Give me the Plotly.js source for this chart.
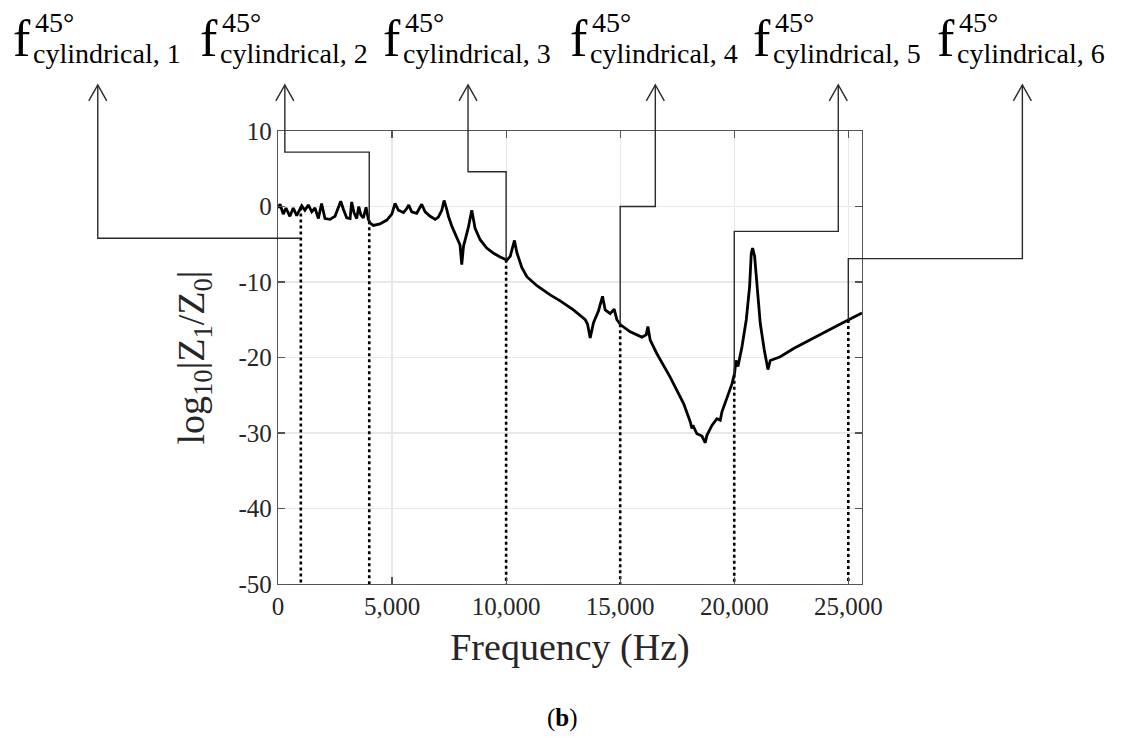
<!DOCTYPE html>
<html><head><meta charset="utf-8">
<script src="https://cdn.plot.ly/plotly-3.0.1.min.js"></script>
<style>html,body{margin:0;padding:0;background:#fff}</style>
</head><body><div id="chart" style="width:1121px;height:745px"></div>
<script>
// ---- data ----
const freq = [0, 90, 230, 350, 520, 670, 820, 1040, 1180, 1330, 1480, 1620, 1770, 1910, 2060, 2280, 2500, 2650, 2750, 2870, 3010, 3160, 3230, 3330, 3450, 3540, 3630, 3740, 3860, 3960, 4040, 4180, 4470, 4770, 4990, 5130, 5280, 5500, 5640, 5730, 5860, 6080, 6300, 6450, 6670, 6890, 7030, 7180, 7280, 7400, 7470, 7620, 7840, 7980, 8055, 8130, 8350, 8495, 8640, 8860, 9150, 9450, 9740, 10030, 10180, 10365, 10470, 10690, 10910, 11350, 11930, 12370, 12950, 13470, 13570, 13685, 13830, 14050, 14226, 14343, 14562, 14737, 14854, 15030, 15440, 15950, 16140, 16214, 16316, 16610, 17190, 17780, 18070, 18144, 18188, 18364, 18583, 18729, 18802, 19021, 19240, 19386, 19460, 19680, 19900, 20015, 20074, 20162, 20337, 20527, 20673, 20746, 20805, 20893, 20995, 21141, 21316, 21477, 21579, 22018, 22603, 23334, 24065, 25015, 25600];
const logRatio = [-0.2, 0.3, -1.0, -0.2, -1.3, -0.2, -1.2, 0.1, -0.5, 0.2, -0.7, -0.2, -1.6, 0.4, -1.6, -1.7, -1.3, -0.1, 0.7, -0.4, -1.5, -1.6, 0.6, -0.8, -1.6, 0.0, -1.1, -1.5, -0.1, -1.7, -2.2, -2.5, -2.3, -1.8, -1.0, 0.4, -0.5, -0.8, -0.3, 0.2, -0.7, -0.9, 0.3, -0.7, -1.3, -1.7, -1.4, -0.5, 0.8, -0.4, -1.3, -2.6, -4.0, -5.1, -7.7, -5.3, -2.7, -0.5, -2.9, -4.4, -5.5, -6.2, -6.7, -7.1, -6.6, -4.5, -6.1, -8.1, -9.3, -10.5, -11.7, -12.5, -13.7, -15.0, -15.6, -17.4, -15.4, -13.8, -11.9, -13.7, -14.2, -13.6, -15.0, -15.7, -16.6, -17.3, -17.0, -15.9, -17.7, -19.5, -22.6, -26.1, -28.5, -29.4, -29.0, -30.1, -30.4, -31.3, -30.3, -29.0, -28.1, -28.3, -27.2, -25.4, -23.5, -22.1, -20.4, -21.2, -18.6, -15.0, -10.6, -6.2, -5.5, -6.6, -10.6, -15.5, -19.0, -21.6, -20.4, -19.9, -18.8, -17.6, -16.5, -15.0, -14.1];

const modeFreq = [1000, 4000, 10000, 15000, 20000, 25000];
const modeIndex = ['1', '2', '3', '4', '5', '6'];
const elbowLevel = [-4.2, 7.2, 4.6, 0.0, -3.3, -6.9];
const arrowFreq = [-7900, 300, 8330, 16540, 24560, 32630];
const arrowTipLevel = 16.1;

const xTickVals = [0, 5000, 10000, 15000, 20000, 25000];
const xTickText = ['0', '5,000', '10,000', '15,000', '20,000', '25,000'];
const yTickVals = [-50, -40, -30, -20, -10, 0, 10];
const yTickText = ['-50', '-40', '-30', '-20', '-10', '0', '10'];

// ---- layout helpers ----
const W = 1121, H = 745;
const M = {l: 278, r: 259, t: 131, b: 161};
const PW = W - M.l - M.r, PH = H - M.t - M.b;
const xr = [0, 25600], yr = [-50, 10];
const FONT = 'Liberation Serif, Times New Roman, serif';
const fx = f => (f - xr[0]) / (xr[1] - xr[0]);
const fy = v => (v - yr[0]) / (yr[1] - yr[0]);
const pxX = px => (px - M.l) / PW;
const pxY = py => (H - M.b - py) / PH;

function curveAt(f) {
  for (let i = 1; i < freq.length; i++) {
    if (f <= freq[i]) {
      const t = (f - freq[i - 1]) / (freq[i] - freq[i - 1]);
      return logRatio[i - 1] + t * (logRatio[i] - logRatio[i - 1]);
    }
  }
  return logRatio[logRatio.length - 1];
}

// dotted verticals
const dx = [], dy = [];
modeFreq.forEach(f => { dx.push(f, f, null); dy.push(curveAt(f), yr[0], null); });

const traces = [
  {x: dx, y: dy, mode: 'lines', line: {color: '#000', width: 2.6, dash: 'dot'}, hoverinfo: 'skip', showlegend: false},
  {x: freq, y: logRatio, mode: 'lines', line: {color: '#000', width: 2.8}, showlegend: false}
];

const shapes = [];
const annotations = [];
const headDX = 9 / PW, headDY = 16 / PH;
modeFreq.forEach((f, i) => {
  const ax = fx(arrowFreq[i]), tip = fy(arrowTipLevel), el = fy(elbowLevel[i]), mx = fx(f);
  const cv = curveAt(f);
  let p = `M ${ax} ${tip} L ${ax} ${el} L ${mx} ${el}`;
  if (elbowLevel[i] > cv) p += ` L ${mx} ${fy(cv)}`;
  shapes.push({type: 'path', xref: 'paper', yref: 'paper', path: p, line: {color: '#2a2a2a', width: 1.4}});
  shapes.push({type: 'path', xref: 'paper', yref: 'paper',
    path: `M ${ax - headDX} ${tip - headDY} L ${ax} ${tip} L ${ax + headDX} ${tip - headDY}`,
    line: {color: '#2a2a2a', width: 1.4}});
  // label f^45°_cylindrical,n
  annotations.push({xref: 'paper', yref: 'paper', x: ax, y: pxY(38), xshift: -87, xanchor: 'left', yanchor: 'middle',
    text: 'f', showarrow: false, font: {family: FONT, size: 52, color: '#000'}});
  annotations.push({xref: 'paper', yref: 'paper', x: ax, y: pxY(23), xshift: -65, xanchor: 'left', yanchor: 'middle',
    text: '45°', showarrow: false, font: {family: FONT, size: 28, color: '#000'}});
  annotations.push({xref: 'paper', yref: 'paper', x: ax, y: pxY(53), xshift: -67, xanchor: 'left', yanchor: 'middle',
    text: 'cylindrical, ' + modeIndex[i], showarrow: false, font: {family: FONT, size: 28, color: '#000'}});
});
annotations.push({xref: 'paper', yref: 'paper', x: pxX(562), y: pxY(718), xanchor: 'center', yanchor: 'middle',
  text: '(<b>b</b>)', showarrow: false, font: {family: FONT, size: 25, color: '#000'}});

const axisCommon = {
  showline: true, linecolor: '#555', linewidth: 1.2, mirror: 'ticks',
  ticks: 'inside', ticklen: 7, tickcolor: '#555', tickwidth: 1.2,
  showgrid: true, gridcolor: '#e8e8e8', gridwidth: 1.2, zeroline: false,
  tickfont: {family: FONT, size: 25, color: '#262626'}, automargin: false, fixedrange: true
};

const layout = {
  width: W, height: H, margin: M, paper_bgcolor: '#fff', plot_bgcolor: '#fff',
  showlegend: false,
  xaxis: Object.assign({}, axisCommon, {range: xr, tickmode: 'array', tickvals: xTickVals, ticktext: xTickText,
    title: {text: 'Frequency (Hz)', font: {family: FONT, size: 38, color: '#262626'}, standoff: 14}}),
  yaxis: Object.assign({}, axisCommon, {range: yr, tickmode: 'array', tickvals: yTickVals, ticktext: yTickText,
    title: {text: 'log<sub>10</sub>|Z<sub>1</sub>/Z<sub>0</sub>|', font: {family: FONT, size: 38, color: '#262626'}, standoff: 22}}),
  shapes: shapes, annotations: annotations
};

Plotly.newPlot('chart', traces, layout, {displayModeBar: false, staticPlot: true});
</script></body></html>
